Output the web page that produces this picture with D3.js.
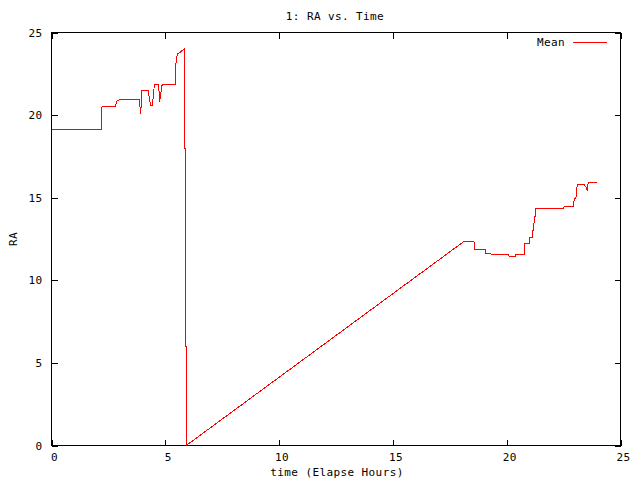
<!DOCTYPE html>
<html>
<head>
<meta charset="utf-8">
<script src="https://cdn.jsdelivr.net/npm/d3@7"></script>
<style>
body { margin: 0; background: #fff; }
svg { display: block; }
text { font-family: "DejaVu Sans Mono", monospace; font-size: 11px; letter-spacing: 0.4px; fill: #000; }
</style>
</head>
<body>
<div></div>
<script>
var width = 640;
var height = 480;

// elapsed hours
var times = [0, 2.19, 2.22, 2.79, 2.88, 3.0, 3.86, 3.9, 3.92, 3.97, 4.25, 4.31, 4.36, 4.43, 4.52,
    4.71, 4.75, 4.79, 4.86, 5.44, 5.47, 5.53, 5.6, 5.83, 5.83, 5.87, 5.87, 5.92, 5.92,
    18.12, 18.56, 18.6, 19.05, 19.08, 19.31, 19.34, 20.07, 20.12, 20.37, 20.41, 20.77, 20.8,
    21.0, 21.02, 21.12, 21.14, 21.19, 21.21, 21.25, 21.27, 22.49, 22.53, 22.93, 22.97, 23.04,
    23.1, 23.4, 23.5, 23.54, 23.58, 23.95];
// RA mean
var raMean = [19.13, 19.13, 20.5, 20.5, 20.85, 20.95, 20.95, 20.3, 20.05, 21.5, 21.5, 20.9, 20.58, 20.58, 21.83,
    21.83, 20.8, 21.2, 21.83, 21.83, 23.17, 23.7, 23.75, 24.0, 18.0, 18.0, 6.0, 6.0, 0,
    12.35, 12.35, 11.86, 11.86, 11.6, 11.6, 11.54, 11.54, 11.42, 11.42, 11.56, 11.56, 12.23,
    12.23, 12.57, 12.57, 13.03, 13.03, 13.88, 13.88, 14.33, 14.33, 14.47, 14.47, 14.93, 15.0,
    15.8, 15.8, 15.6, 15.44, 15.9, 15.9];

var xTicks = [0, 5, 10, 15, 20, 25];
var yTicks = [0, 5, 10, 15, 20, 25];

var plotLeft = 51.5, plotRight = 620.5, plotTop = 32.5, plotBottom = 445.5;

var svg = d3.select('div')
    .append('svg').attr('width', width).attr('height', height);

var x = d3.scaleLinear().domain([0, 25]).range([plotLeft, plotRight]);
var y = d3.scaleLinear().domain([0, 25]).range([plotBottom, plotTop]);

// ticks point inward on all four sides
var gx = svg.append('g')
    .attr('transform', 'translate(0,' + plotBottom + ')')
    .call(d3.axisBottom(x).tickValues(xTicks).tickSize(-6).tickSizeOuter(0).tickPadding(8).tickFormat(d3.format('d')));
gx.selectAll('text').attr('dx', 2.5);

svg.append('g')
    .attr('transform', 'translate(' + plotLeft + ',0)')
    .call(d3.axisLeft(y).tickValues(yTicks).tickSize(-6).tickSizeOuter(0).tickPadding(9).tickFormat(d3.format('d')));

svg.append('g')
    .attr('transform', 'translate(0,' + plotTop + ')')
    .call(d3.axisTop(x).tickValues(xTicks).tickSize(-6).tickSizeOuter(0).tickFormat(''));

svg.append('g')
    .attr('transform', 'translate(' + plotRight + ',0)')
    .call(d3.axisRight(y).tickValues(yTicks).tickSize(-6).tickSizeOuter(0).tickFormat(''));

svg.selectAll('.domain').remove();
svg.selectAll('.tick line').attr('stroke', '#000').attr('shape-rendering', 'crispEdges');
svg.selectAll('.tick text')
    .attr('fill', '#000')
    .style('font-family', '"DejaVu Sans Mono", monospace')
    .style('font-size', '11px');

svg.append('rect')
    .attr('x', plotLeft).attr('y', plotTop)
    .attr('width', plotRight - plotLeft).attr('height', plotBottom - plotTop)
    .attr('fill', 'none').attr('stroke', '#000').attr('shape-rendering', 'crispEdges');

var pts = times.map(function (t, i) { return [t, raMean[i]]; });

var line = d3.line()
    .x(function (d) { return x(d[0]); })
    .y(function (d) { return y(d[1]); });

svg.append('path')
    .datum(pts)
    .attr('d', line)
    .attr('fill', 'none')
    .attr('stroke', '#ff0000')
    .attr('stroke-width', 1)
    .attr('shape-rendering', 'crispEdges');

// titles
svg.append('text')
    .attr('x', 335).attr('y', 19.5)
    .attr('text-anchor', 'middle')
    .text('1: RA vs. Time');

svg.append('text')
    .attr('x', 337).attr('y', 476)
    .attr('text-anchor', 'middle')
    .text('time (Elapse Hours)');

svg.append('text')
    .attr('transform', 'translate(17,239) rotate(-90)')
    .attr('text-anchor', 'middle')
    .text('RA');

// legend
svg.append('text')
    .attr('x', 565).attr('y', 46)
    .attr('text-anchor', 'end')
    .text('Mean');

svg.append('line')
    .attr('x1', 573).attr('x2', 607)
    .attr('y1', 42.5).attr('y2', 42.5)
    .attr('stroke', '#ff0000')
    .attr('shape-rendering', 'crispEdges');
</script>
</body>
</html>
